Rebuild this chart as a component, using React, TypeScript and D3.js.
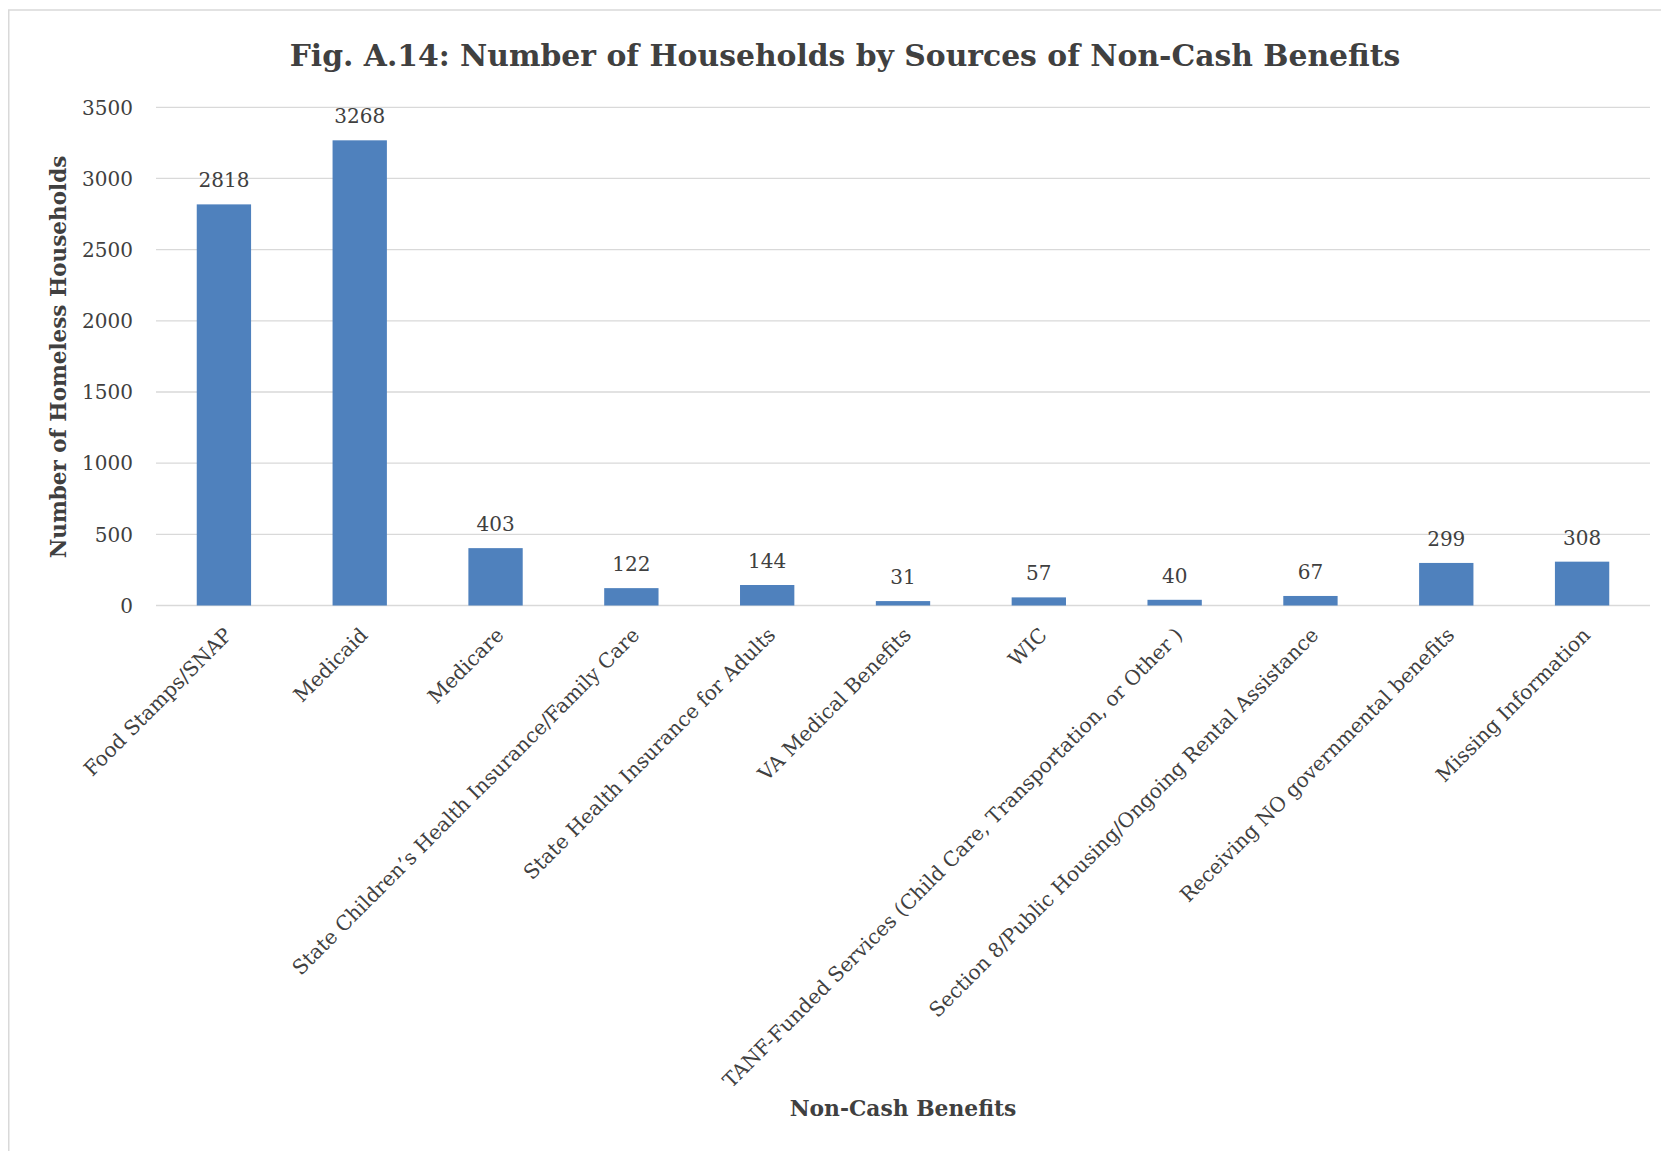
import React from "react";
import * as d3 from "d3";

const title = "Fig. A.14: Number of Households by Sources of Non-Cash Benefits";
const yAxisTitle = "Number of Homeless Households";
const xAxisTitle = "Non-Cash Benefits";

const categories = [
  "Food Stamps/SNAP",
  "Medicaid",
  "Medicare",
  "State Children\u2019s Health Insurance/Family Care",
  "State Health Insurance for Adults",
  "VA Medical Benefits",
  "WIC",
  "TANF-Funded Services (Child Care, Transportation, or Other )",
  "Section 8/Public Housing/Ongoing Rental Assistance",
  "Receiving NO governmental benefits",
  "Missing Information",
];
const values = [2818, 3268, 403, 122, 144, 31, 57, 40, 67, 299, 308];
const yTicks = [0, 500, 1000, 1500, 2000, 2500, 3000, 3500];

const W = 1661;
const H = 1151;
const FONT = "'DejaVu Serif', serif";
const TEXT = "#404040";
const GRID = "#D9D9D9";
const BAR = "#4F81BD";

export default function App() {
  const left = 156;
  const right = 1650;
  const top = 107.3;
  const bottom = 605.5;

  const x = d3
    .scaleBand<string>()
    .domain(categories)
    .range([left, right])
    .paddingInner(0.6)
    .paddingOuter(0.3);
  const y = d3.scaleLinear().domain([0, 3500]).range([bottom, top]);

  return (
    <svg
      width={W}
      height={H}
      style={{ position: "absolute", left: 0, top: 0, background: "#fff" }}
    >
      <rect x={0} y={0} width={W} height={H} fill="#fff" />
      <rect
        x={8.75}
        y={10}
        width={1720}
        height={1250}
        fill="#fff"
        stroke={GRID}
        strokeWidth={1.5}
      />
      <text
        x={845}
        y={66}
        textAnchor="middle"
        fontFamily={FONT}
        fontWeight="bold"
        fontSize={29.8}
        fill={TEXT}
      >
        {title}
      </text>
      {yTicks.map((t) => (
        <g key={t}>
          <line
            x1={left}
            x2={right}
            y1={y(t)}
            y2={y(t)}
            stroke={GRID}
            strokeWidth={t === 0 ? 1.6 : 1.3}
          />
          <text
            x={133}
            y={y(t)}
            dy="0.36em"
            textAnchor="end"
            fontFamily={FONT}
            fontSize={20}
            fill={TEXT}
          >
            {t}
          </text>
        </g>
      ))}
      {categories.map((c, i) => {
        const bx = x(c) as number;
        const bw = x.bandwidth();
        const v = values[i];
        return (
          <g key={c}>
            <rect x={bx} y={y(v)} width={bw} height={y(0) - y(v)} fill={BAR} />
            <text
              x={bx + bw / 2}
              y={y(v) - 17}
              textAnchor="middle"
              fontFamily={FONT}
              fontSize={20}
              fill={TEXT}
            >
              {v}
            </text>
            <text
              transform={`translate(${bx + bw / 2 - 1},${626}) rotate(-45)`}
              dy="0.72em"
              textAnchor="end"
              fontFamily={FONT}
              fontSize={20.2}
              fill={TEXT}
            >
              {c}
            </text>
          </g>
        );
      })}
      <text
        transform={`translate(58,357) rotate(-90)`}
        dy="0.36em"
        textAnchor="middle"
        fontFamily={FONT}
        fontWeight="bold"
        fontSize={21.5}
        fill={TEXT}
      >
        {yAxisTitle}
      </text>
      <text
        x={(left + right) / 2}
        y={1108}
        dy="0.36em"
        textAnchor="middle"
        fontFamily={FONT}
        fontWeight="bold"
        fontSize={21.8}
        fill={TEXT}
      >
        {xAxisTitle}
      </text>
    </svg>
  );
}
